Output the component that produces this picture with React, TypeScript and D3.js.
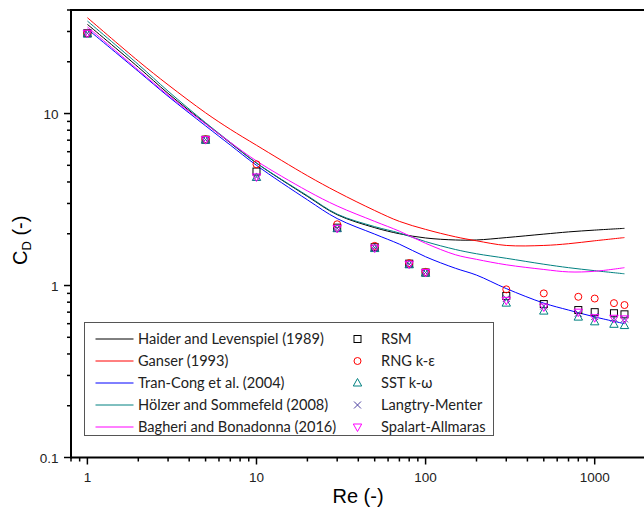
import * as d3 from 'd3';

// Re values of the correlation curves
const curveRe = [1, 2, 3, 5, 7, 10, 20, 30, 50, 70, 100, 150, 200, 300, 500, 700, 1000, 1500];
const haider = [33.0, 18.6, 13.1, 8.75, 6.75, 5.15, 3.3, 2.58, 2.17, 2.0, 1.89, 1.84, 1.84, 1.9, 1.99, 2.05, 2.1, 2.15];
const ganser = [36.1, 20.2, 14.7, 10.1, 8.1, 6.54, 4.35, 3.5, 2.73, 2.36, 2.12, 1.92, 1.82, 1.71, 1.71, 1.75, 1.82, 1.9];
const tranCong = [31.0, 17.6, 12.6, 8.48, 6.56, 5.0, 3.15, 2.45, 1.99, 1.74, 1.47, 1.26, 1.15, 0.96, 0.79, 0.72, 0.657, 0.6];
const holzer = [34.5, 19.3, 13.5, 8.85, 6.8, 5.16, 3.33, 2.6, 2.2, 2.02, 1.8, 1.62, 1.53, 1.44, 1.33, 1.27, 1.22, 1.17];
const bagheri = [31.9, 17.9, 12.8, 8.7, 6.8, 5.3, 3.55, 2.9, 2.36, 2.07, 1.76, 1.51, 1.42, 1.32, 1.24, 1.2, 1.21, 1.27];

// CFD results
const simRe = [1, 5, 10, 30, 50, 80, 100, 300, 500, 800, 1000, 1300, 1500];
const rsm = [29.3, 7.05, 4.6, 2.17, 1.67, 1.34, 1.19, 0.87, 0.78, 0.72, 0.7, 0.69, 0.68];
const rng = [29.3, 7.1, 5.07, 2.27, 1.7, 1.35, 1.2, 0.95, 0.9, 0.86, 0.84, 0.79, 0.77];
const sst = [29.0, 7.0, 4.25, 2.14, 1.64, 1.32, 1.18, 0.79, 0.71, 0.655, 0.615, 0.595, 0.585];
const langtry = [29.3, 7.05, 4.28, 2.15, 1.66, 1.33, 1.19, 0.84, 0.76, 0.69, 0.66, 0.645, 0.64];
const spalart = [29.3, 7.05, 4.28, 2.15, 1.65, 1.33, 1.19, 0.82, 0.75, 0.7, 0.65, 0.645, 0.64];

const xMajor = [1, 10, 100, 1000];
const yMajor = [0.1, 1, 10];

const curves = [
  { name: 'Haider and Levenspiel (1989)', values: haider, color: '#000000' },
  { name: 'Ganser (1993)', values: ganser, color: '#ff0000' },
  { name: 'Tran-Cong et al. (2004)', values: tranCong, color: '#0000ff' },
  { name: 'Hölzer and Sommefeld (2008)', values: holzer, color: '#008080' },
  { name: 'Bagheri and Bonadonna (2016)', values: bagheri, color: '#ff00ff' },
];

const sims = [
  { name: 'RSM', values: rsm, color: '#000000', shape: 'square' },
  { name: 'RNG k-ε', values: rng, color: '#ff0000', shape: 'circle' },
  { name: 'SST k-ω', values: sst, color: '#008080', shape: 'triangle' },
  { name: 'Langtry-Menter', values: langtry, color: '#4b3fa0', shape: 'cross' },
  { name: 'Spalart-Allmaras', values: spalart, color: '#ff00ff', shape: 'invtri' },
];

const W = 644;
const H = 512;
const left = 71;
const right = 645.6;
const top = 10;
const bottom = 457.5;

const tickFont = '"Liberation Sans", Arial, sans-serif';
const legendFont = 'Lato, "Open Sans", sans-serif';

function Marker({ shape, color, cx, cy }: { shape: string; color: string; cx: number; cy: number }) {
  const s = 3.5;
  const common = { fill: 'none', stroke: color, strokeWidth: 1 };
  if (shape === 'square') return <rect x={cx - s} y={cy - s} width={2 * s} height={2 * s} {...common} />;
  if (shape === 'circle') return <circle cx={cx} cy={cy} r={s} {...common} />;
  if (shape === 'triangle')
    return <path d={`M${cx},${cy - 4.5}L${cx + 4.2},${cy + 3}L${cx - 4.2},${cy + 3}Z`} {...common} />;
  if (shape === 'invtri')
    return <path d={`M${cx},${cy + 4.5}L${cx + 4.2},${cy - 3}L${cx - 4.2},${cy - 3}Z`} {...common} />;
  return <path d={`M${cx - s},${cy - s}L${cx + s},${cy + s}M${cx - s},${cy + s}L${cx + s},${cy - s}`} {...common} />;
}

export default function App() {
  const x = d3.scaleLog().domain([0.8, 2000]).range([left, right]);
  const y = d3.scaleLog().domain([0.1, 40]).range([bottom, top]);

  const line = d3
    .line<number>()
    .x((_, i) => x(curveRe[i]))
    .y((d) => y(d))
    .curve(d3.curveCatmullRom.alpha(0.5));

  const xTicks = x.ticks().filter((t) => t >= 0.8 && t <= 2000);
  const yTicks = y.ticks().filter((t) => t >= 0.1 && t <= 40);

  const lgX = 84.5;
  const lgY = 322.5;
  const rowY = (i: number) => 339 + i * 22;

  return (
    <div style={{ position: 'absolute', left: 0, top: 0 }}>
      <svg width={W} height={H} style={{ display: 'block', background: '#fff' }}>
        <defs>
          <clipPath id="plot">
            <rect x={left} y={top} width={right - left} height={bottom - top} />
          </clipPath>
        </defs>

        {/* curves */}
        <g clipPath="url(#plot)">
          {curves.map((c) => (
            <path key={c.name} d={line(c.values) ?? ''} fill="none" stroke={c.color} strokeWidth={1} />
          ))}
        </g>

        {/* simulation markers */}
        {sims.map((s) => (
          <g key={s.name}>
            {s.values.map((v, i) => (
              <Marker key={i} shape={s.shape} color={s.color} cx={x(simRe[i])} cy={y(v)} />
            ))}
          </g>
        ))}

        {/* frame */}
        <line x1={left} x2={right} y1={top} y2={top} stroke="#000" strokeWidth={2} />
        <line x1={left} x2={right} y1={bottom} y2={bottom} stroke="#000" strokeWidth={2} />
        <line x1={left} x2={left} y1={top - 1} y2={bottom + 1} stroke="#000" strokeWidth={2} />
        <line x1={right} x2={right} y1={top} y2={bottom} stroke="#000" strokeWidth={2} />

        {/* x ticks */}
        {xTicks.map((t) => {
          const major = xMajor.includes(t);
          return (
            <line key={'xt' + t} x1={x(t)} x2={x(t)} y1={bottom} y2={bottom + (major ? 7 : 4)} stroke="#000" strokeWidth={1.5} />
          );
        })}
        {xMajor.map((t) => (
          <text key={'xl' + t} x={x(t)} y={482} textAnchor="middle" fontFamily={tickFont} fontSize={13.5} fill="#222">
            {t}
          </text>
        ))}

        {/* y ticks */}
        {yTicks.map((t) => {
          const major = yMajor.some((m) => Math.abs(m - t) < 1e-9);
          return (
            <line key={'yt' + t} x1={left - (major ? 7 : 4)} x2={left} y1={y(t)} y2={y(t)} stroke="#000" strokeWidth={1.5} />
          );
        })}
        {yMajor.map((t) => (
          <text key={'yl' + t} x={58.5} y={y(t) + 5} textAnchor="end" fontFamily={tickFont} fontSize={13.5} fill="#222">
            {t}
          </text>
        ))}

        {/* axis titles */}
        <text x={358} y={503} textAnchor="middle" fontFamily={tickFont} fontSize={20} fill="#000">
          Re (-)
        </text>
        <text transform="translate(27,265) rotate(-90)" fontFamily={tickFont} fontSize={20} fill="#000">
          C
          <tspan fontSize={13} dy={4}>D</tspan>
          <tspan dy={-4}> (-)</tspan>
        </text>

        {/* legend */}
        <rect x={lgX} y={lgY} width={409} height={113} fill="#fff" stroke="#555" strokeWidth={1} />
        {curves.map((c, i) => (
          <g key={'lc' + c.name}>
            <line x1={95.5} x2={133.5} y1={rowY(i)} y2={rowY(i)} stroke={c.color} strokeWidth={1} />
            <text x={138} y={rowY(i) + 5} fontFamily={legendFont} fontSize={14.6} fill="#222">
              {c.name}
            </text>
          </g>
        ))}
        {sims.map((s, i) => (
          <g key={'ls' + s.name}>
            <Marker shape={s.shape} color={s.color} cx={357.5} cy={rowY(i)} />
            <text x={381} y={rowY(i) + 5} fontFamily={legendFont} fontSize={14.6} fill="#222">
              {s.name}
            </text>
          </g>
        ))}
      </svg>
    </div>
  );
}
